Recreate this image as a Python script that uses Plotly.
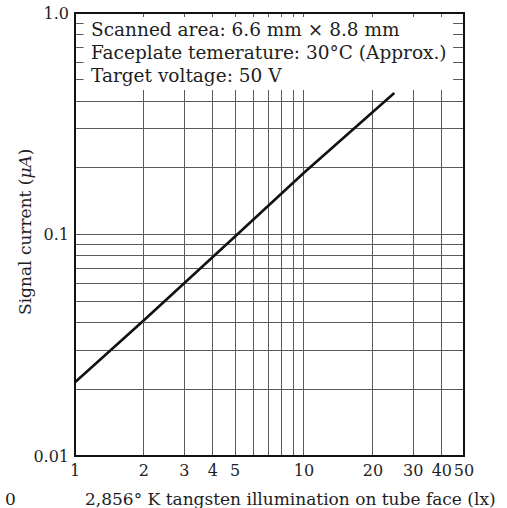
import plotly.graph_objects as go

# Signal current vs. illumination (log-log)
illum_lx = [1.0, 2.0, 5.0, 10.0, 24.8]
signal_ua = [0.0215, 0.041, 0.098, 0.19, 0.435]

# stray printed dot at the right border
dot_x = [50.0]
dot_y = [0.03]

x_tickvals = [1, 2, 3, 4, 5, 6, 7, 8, 9, 10, 20, 30, 40, 50]
x_ticktext = ["1", "2", "3", "4", "5", "", "", "", "", "10", "20", "30", "40", "50"]

y_tickvals = [0.01, 0.02, 0.03, 0.04, 0.05, 0.06, 0.07, 0.08, 0.09,
              0.1, 0.2, 0.3, 0.4, 0.5, 0.6, 0.7, 0.8, 0.9, 1.0]
y_ticktext = ["0.01", "", "", "", "", "", "", "", "",
              "0.1", "", "", "", "", "", "", "", "", "1.0"]

notes = [
    "Scanned area: 6.6 mm \u00d7 8.8 mm",
    "Faceplate temerature: 30\u00b0C (Approx.)",
    "Target voltage: 50 V",
]

FONT = "DejaVu Serif"
INK = "#1e1e1e"
GRID = "#5a5a5a"

fig = go.Figure()
fig.add_trace(go.Scatter(
    x=illum_lx, y=signal_ua, mode="lines",
    line=dict(color="#111111", width=2.6), showlegend=False,
))
fig.add_trace(go.Scatter(
    x=dot_x, y=dot_y, mode="markers",
    marker=dict(color="#111111", size=4), showlegend=False, cliponaxis=False,
))

fig.update_layout(
    width=507, height=508,
    margin=dict(l=75, r=43, t=13, b=52, autoexpand=False),
    paper_bgcolor="white", plot_bgcolor="white",
    font=dict(family=FONT, color=INK, size=16),
    xaxis=dict(
        type="log", range=[0, 1.69897], automargin=False,
        tickvals=x_tickvals, ticktext=x_ticktext, tickangle=0,
        showgrid=True, gridcolor=GRID, gridwidth=1,
        showline=False, zeroline=False, ticks="", ticklen=0,
        ticklabelstandoff=3,
        tickfont=dict(family=FONT, size=16, color=INK),
    ),
    yaxis=dict(
        type="log", range=[-2, 0], automargin=False,
        tickvals=y_tickvals, ticktext=y_ticktext,
        showgrid=True, gridcolor=GRID, gridwidth=1,
        showline=False, zeroline=False, ticks="", ticklen=0,
        ticklabelstandoff=5,
        tickfont=dict(family=FONT, size=16, color=INK),
    ),
)

# white panel holding the condition notes; grid stubs remain at its edges
fig.add_shape(type="rect", xref="paper", yref="paper",
              x0=0.022, x1=0.972, y0=0.826, y1=0.991,
              fillcolor="white", line=dict(width=0), layer="above")
# frame of the plotting area
fig.add_shape(type="rect", xref="paper", yref="paper",
              x0=0, x1=1, y0=0, y1=1,
              line=dict(color="#111111", width=2), layer="above")

row_y = [29, 52, 75]
for txt, py in zip(notes, row_y):
    fig.add_annotation(
        text=txt, xref="paper", yref="paper",
        x=(89 - 75) / 389, y=(456 - py) / 443,
        xanchor="left", yanchor="middle", showarrow=False,
        font=dict(family=FONT, size=18.5, color=INK),
    )

fig.add_annotation(
    text="Signal current (<i>\u03bcA</i>)", xref="paper", yref="paper",
    x=(25 - 75) / 389, y=(456 - 232) / 443, textangle=-90,
    xanchor="center", yanchor="middle", showarrow=False,
    font=dict(family=FONT, size=17, color=INK),
)
fig.add_annotation(
    text="2,856\u00b0 K tangsten illumination on tube face (lx)",
    xref="paper", yref="paper",
    x=(290 - 75) / 389, y=(456 - 499) / 443,
    xanchor="center", yanchor="middle", showarrow=False,
    font=dict(family=FONT, size=17, color=INK),
)
fig.add_annotation(
    text="0", xref="paper", yref="paper",
    x=(10 - 75) / 389, y=(456 - 499) / 443,
    xanchor="center", yanchor="middle", showarrow=False,
    font=dict(family=FONT, size=17, color=INK),
)

fig.write_html("out.html")
